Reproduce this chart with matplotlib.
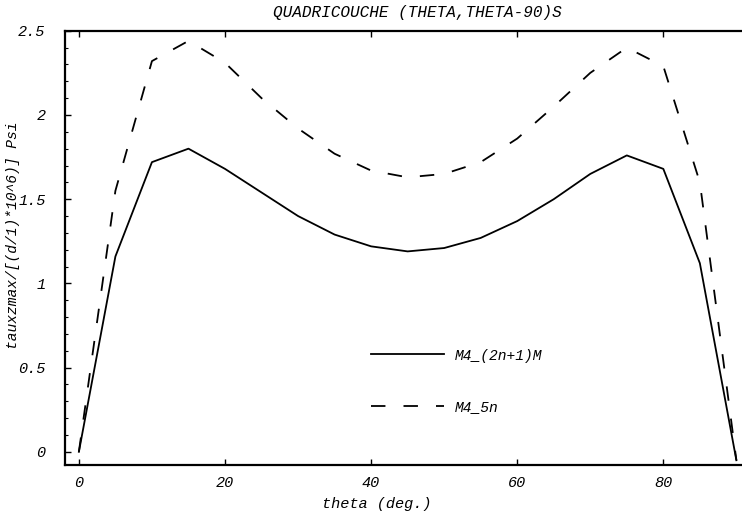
import matplotlib
matplotlib.use("Agg")
import matplotlib.pyplot as plt
from matplotlib.ticker import MultipleLocator, FixedLocator

theta = [0, 5, 10, 15, 20, 25, 30, 35, 40, 45, 50, 55, 60, 65, 70, 75, 80, 85, 90]
m4_2n1m = [0.0, 1.16, 1.72, 1.80, 1.68, 1.54, 1.40, 1.29, 1.22, 1.19, 1.21, 1.27,
           1.37, 1.50, 1.65, 1.76, 1.68, 1.12, -0.05]
m4_5n = [0.0, 1.55, 2.32, 2.44, 2.31, 2.10, 1.92, 1.77, 1.67, 1.63, 1.65, 1.72,
         1.86, 2.05, 2.25, 2.40, 2.29, 1.60, -0.05]

title = "QUADRICOUCHE (THETA,THETA-90)S"
xlabel = "theta (deg.)"
ylabel = "tauxzmax/[(d/1)*10^6)] Psi"
labels = ["M4_(2n+1)M", "M4_5n"]
xticks = [0, 20, 40, 60, 80]
xticklabels = ["0", "20", "40", "60", "80"]
yticks = [0, 0.5, 1, 1.5, 2, 2.5]
yticklabels = ["0", "0.5", "1", "1.5", "2", "2.5"]

font = {"family": "Liberation Mono", "style": "italic"}

fig = plt.figure(figsize=(7.42, 5.13), dpi=100)
ax = fig.add_axes([0.0876, 0.094, 0.9124 + 0.02, 0.846])

ax.plot(theta, m4_2n1m, color="black", lw=1.3, label=labels[0])
ln, = ax.plot(theta, m4_5n, color="black", lw=1.3, label=labels[1])
ln.set_dashes((8.0, 10.0))

ax.set_xlim(-1.9, 92.8)
ax.set_ylim(-0.077, 2.5)

ax.xaxis.set_major_locator(FixedLocator(xticks))
ax.set_xticklabels(xticklabels, fontsize=11, **font)
ax.yaxis.set_major_locator(FixedLocator(yticks))
ax.set_yticklabels(yticklabels, fontsize=11, **font)
ax.yaxis.set_minor_locator(MultipleLocator(0.1))

ax.tick_params(axis="x", which="both", direction="in", top=True, bottom=True,
               length=4, width=1, pad=8)
ax.tick_params(axis="y", which="major", direction="in", left=True, right=False,
               length=4, width=1, pad=14)
ax.tick_params(axis="y", which="minor", direction="in", left=True, right=False,
               length=2.5, width=0.8)

for s in ["left", "bottom", "top"]:
    ax.spines[s].set_linewidth(1.6)
ax.spines["right"].set_visible(False)

ax.set_title(title, fontsize=11.5, x=0.51, pad=10, **font)
ax.set_xlabel(xlabel, fontsize=11, **font)
ax.xaxis.set_label_coords(0.45, -0.075)
ax.set_ylabel(ylabel, fontsize=10.5, **font)
ax.yaxis.set_label_coords(-0.065, 0.53)

leg = ax.legend(loc="upper left", bbox_to_anchor=(0.424, 0.298), frameon=False,
                handlelength=5.0, handletextpad=0.7, labelspacing=2.6,
                prop={"family": "Liberation Mono", "style": "italic", "size": 10.5})

fig.savefig("out.png", dpi=100)
